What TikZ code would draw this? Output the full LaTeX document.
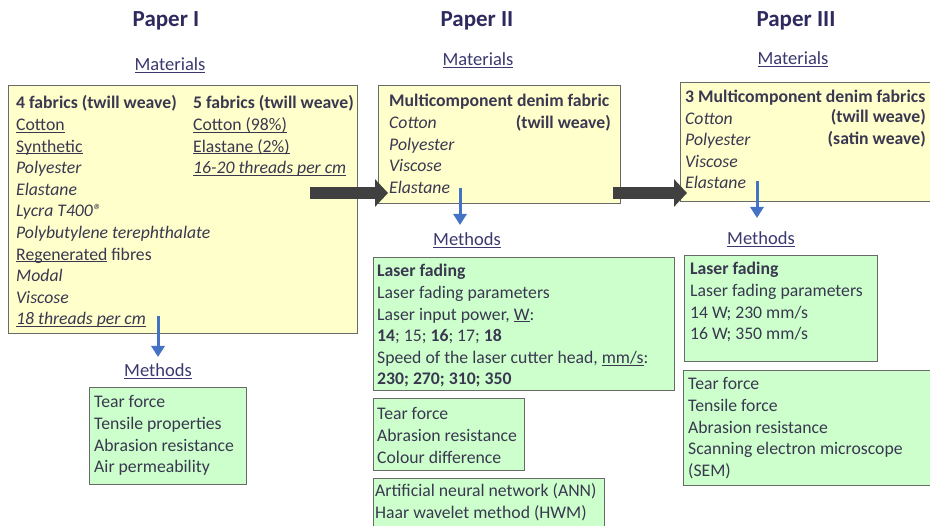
\documentclass[tikz,border=0pt]{standalone}
\usepackage{fontspec}
\setmainfont{Carlito}
\usepackage{xcolor}
\usepackage{tikz}
\usetikzlibrary{arrows.meta}

\newcommand{\uln}[1]{\underline{\smash{#1}}}

\definecolor{papercol}{RGB}{46,42,94}
\definecolor{headcol}{RGB}{58,56,110}
\definecolor{bodycol}{RGB}{58,56,80}
\definecolor{matfill}{RGB}{255,255,204}
\definecolor{methfill}{RGB}{204,255,204}
\definecolor{edgecol}{RGB}{105,105,105}
\definecolor{blueline}{RGB}{68,114,196}
\definecolor{greyarrow}{RGB}{64,64,64}

\begin{document}
\begin{tikzpicture}[x=1pt, y=-1pt,
        paper/.style={font=\fontsize{23}{27}\selectfont\bfseries, text=papercol, inner sep=0pt, anchor=base},
        heading/.style={font=\fontsize{18.5}{22}\selectfont, text=headcol, inner sep=0pt, anchor=base},
        matbox/.style={draw=edgecol, line width=0.9pt, fill=matfill, inner sep=0pt, anchor=north west},
        methbox/.style={draw=edgecol, line width=0.9pt, fill=methfill, inner sep=0pt, anchor=north west},
        body/.style={font=\fontsize{17.7}{21.6}\selectfont, text=bodycol, inner sep=0pt, align=left, anchor=base west},
        bigarrow/.style={draw=greyarrow, line width=12pt, -{Triangle[length=13pt, width=27pt]}},
        smallarrow/.style={draw=blueline, line width=3pt, -{Triangle[length=11pt, width=13pt]}}]
        \useasboundingbox (0,0) rectangle (930,526);
        \clip (0,0) rectangle (930,526);

        % titles
        \node[paper] (p1) at (166,27) {Paper I};
        \node[paper] (p2) at (477,27) {Paper II};
        \node[paper] (p3) at (796,27) {Paper III};

        \node[heading] (mat1h) at (170,71) {\uln{Materials}};
        \node[heading] (mat2h) at (478,66) {\uln{Materials}};
        \node[heading] (mat3h) at (793,65) {\uln{Materials}};

        \node[heading] (meth1h) at (158,377) {\uln{Methods}};
        \node[heading] (meth2h) at (467,246) {\uln{Methods}};
        \node[heading] (meth3h) at (761,245) {\uln{Methods}};

        % boxes
        \node[matbox, minimum width=349, minimum height=248] (mat1) at (8,85) {};
        \node[matbox, minimum width=242, minimum height=118] (mat2) at (378,85) {};
        \node[matbox, minimum width=262, minimum height=119] (mat3) at (680,82) {};
        \node[methbox, minimum width=157, minimum height=97] (meth1) at (89,387) {};
        \node[methbox, minimum width=301, minimum height=133] (meth2a) at (373,257) {};
        \node[methbox, minimum width=151, minimum height=72] (meth2b) at (373,398) {};
        \node[methbox, minimum width=231, minimum height=60] (meth2c) at (373,478) {};
        \node[methbox, minimum width=193, minimum height=106] (meth3a) at (684,255) {};
        \node[methbox, minimum width=259, minimum height=115] (meth3b) at (683,370) {};

        % paper I (base = last line)
        \node[body] (mat1l) at (16,325) {\textbf{4 fabrics (twill weave)}\\\uln{Cotton}\\\uln{Synthetic}\\\textit{Polyester}\\\textit{Elastane}\\\textit{Lycra T400\textregistered}\\\textit{Polybutylene terephthalate}\\\uln{Regenerated} fibres\\\textit{Modal}\\\textit{Viscose}\\\textit{\uln{18 threads per cm}}};
        \node[body] (mat1r) at (193,173.8) {\textbf{5 fabrics (twill weave)}\\\uln{Cotton (98\%)}\\\uln{Elastane (2\%)}\\\textit{\uln{16-20 threads per cm}}};
        \node[body] (meth1t) at (94,472.8) {Tear force\\Tensile properties\\Abrasion resistance\\Air permeability};

        % paper II
        \node[body] (mat2l) at (389,193.4) {\textbf{Multicomponent denim fabric}\\\textit{Cotton}\\\textit{Polyester}\\\textit{Viscose}\\\textit{Elastane}};
        \node[body, anchor=base east] (mat2w) at (611,129) {\textbf{(twill weave)}};
        \node[body] (meth2at) at (377,385) {\textbf{Laser fading}\\Laser fading parameters\\Laser input power, \uln{W}:\\\textbf{14}; 15; \textbf{16}; 17; \textbf{18}\\Speed of the laser cutter head, \uln{mm/s}:\\\textbf{230; 270; 310; 350}};
        \node[body] (meth2bt) at (377,463.2) {Tear force\\Abrasion resistance\\Colour difference};
        \node[body] (meth2ct) at (375,518.6) {Artificial neural network (ANN)\\Haar wavelet method (HWM)};

        % paper III
        \node[body] (mat3l) at (685,189) {\textbf{3 Multicomponent denim fabrics}\\\textit{Cotton}\\\textit{Polyester}\\\textit{Viscose}\\\textit{Elastane}};
        \node[body, align=right, anchor=base east] (mat3w) at (926,144.6) {\textbf{(twill weave)}\\\textbf{(satin weave)}};
        \node[body] (meth3at) at (690,339.8) {\textbf{Laser fading}\\Laser fading parameters\\14 W; 230 mm/s\\16 W; 350 mm/s};
        \node[body] (meth3bt) at (688,476.4) {Tear force\\Tensile force\\Abrasion resistance\\Scanning electron microscope\\(SEM)};

        % arrows
        \coordinate (a1s) at (310,193);
        \coordinate (a1e) at (388,193);
        \coordinate (a2s) at (613,193);
        \coordinate (a2e) at (687,193);
        \draw[bigarrow] (a1s) -- (a1e);
        \draw[bigarrow] (a2s) -- (a2e);

        \coordinate (b1s) at (158,316);
        \coordinate (b1e) at (158,357);
        \coordinate (b2s) at (460,188);
        \coordinate (b2e) at (460,225);
        \coordinate (b3s) at (757,181);
        \coordinate (b3e) at (757,218);
        \draw[smallarrow] (b1s) -- (b1e);
        \draw[smallarrow] (b2s) -- (b2e);
        \draw[smallarrow] (b3s) -- (b3e); % to methods
    \end{tikzpicture}
\end{document}
